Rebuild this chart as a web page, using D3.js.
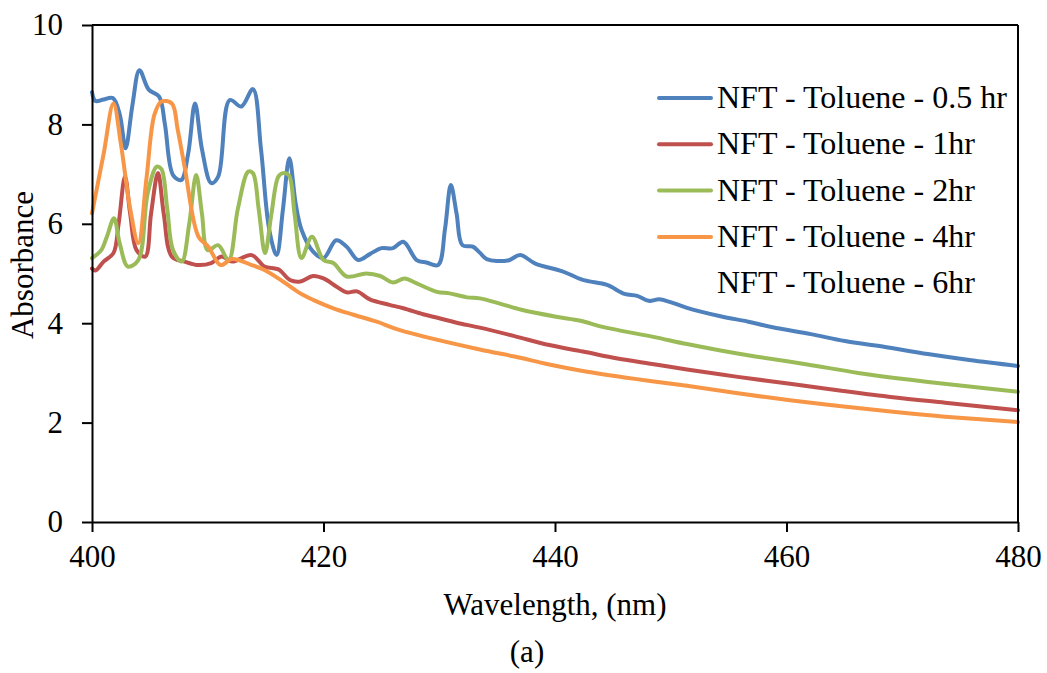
<!DOCTYPE html>
<html>
<head>
<meta charset="utf-8">
<script src="https://cdn.jsdelivr.net/npm/d3@7"></script>
<style>
  html, body { margin: 0; padding: 0; background: #fff; }
  svg { display: block; }
  text { font-family: "Liberation Serif", "Times New Roman", serif; fill: #000; }
</style>
</head>
<body>
<svg id="chart" width="1047" height="673"></svg>
<script>
// ---- Data ----
const xTicks = [400, 420, 440, 460, 480];
const yTicks = [0, 2, 4, 6, 8, 10];

const seriesNames = [
  "NFT - Toluene - 0.5 hr",
  "NFT - Toluene - 1hr",
  "NFT - Toluene - 2hr",
  "NFT - Toluene - 4hr",
  "NFT - Toluene - 6hr"
];
const seriesColors = ["#4F81BD", "#C0504D", "#9BBB59", "#F79646", "none"];

// 0.5 hr
const wl05 = [400, 400.3, 401, 401.8, 402.4, 402.9, 403.5, 404.1, 404.9, 405.8, 406.3, 407.0, 407.7, 408.3, 408.9, 409.5, 410.3, 410.9, 411.9, 412.9, 413.9, 414.6, 415.3, 415.95, 416.5, 417.05, 417.6, 418.1, 419.1, 420.0, 421.1, 422.0, 423.0, 424.0, 425.0, 426.0, 426.9, 428.05, 428.9, 429.9, 430.5, 431.0, 431.5, 432.0, 432.9, 433.5, 434.1, 435.9, 437.0, 438.3, 440.7, 442.4, 444.5, 446.0, 447.1, 448.1, 449.0, 449.9, 451.4, 454.3, 456.7, 458.8, 462.1, 465.05, 468.3, 472.2, 475.8, 480];
const abs05 = [8.65, 8.47, 8.50, 8.53, 8.2, 7.52, 8.4, 9.09, 8.7, 8.56, 8.0, 6.98, 6.88, 7.4, 8.42, 7.5, 6.82, 6.95, 8.49, 8.36, 8.71, 7.5, 5.9, 5.37, 6.3, 7.32, 6.4, 5.88, 5.44, 5.31, 5.67, 5.54, 5.27, 5.39, 5.51, 5.51, 5.64, 5.27, 5.22, 5.17, 5.9, 6.78, 6.2, 5.57, 5.54, 5.42, 5.29, 5.26, 5.37, 5.20, 5.04, 4.87, 4.77, 4.59, 4.55, 4.45, 4.48, 4.43, 4.31, 4.14, 4.03, 3.92, 3.78, 3.64, 3.53, 3.38, 3.26, 3.14];

// 1 hr
const wl1 = [400, 400.3, 401, 401.85, 402.3, 402.85, 403.3, 403.85, 404.6, 405.1, 405.7, 406.2, 406.9, 408.0, 409.2, 410.3, 411.2, 412.1, 413.8, 414.9, 415.8, 416.2, 417.1, 418.0, 419.1, 420.0, 421.1, 422.0, 422.9, 424.0, 425.7, 426.9, 428.6, 430.0, 431.5, 433.5, 436.5, 439.5, 442.4, 445.4, 448.4, 451.4, 455.8, 460.3, 464.75, 469.2, 473.7, 480];
const abs1 = [5.10, 5.06, 5.24, 5.41, 6.0, 6.95, 6.2, 5.47, 5.34, 6.2, 7.02, 6.2, 5.34, 5.24, 5.17, 5.21, 5.34, 5.24, 5.37, 5.14, 5.10, 5.07, 4.87, 4.84, 4.95, 4.90, 4.74, 4.62, 4.64, 4.48, 4.37, 4.30, 4.18, 4.10, 4.01, 3.91, 3.74, 3.56, 3.43, 3.29, 3.18, 3.07, 2.92, 2.78, 2.64, 2.51, 2.40, 2.25];

// 2 hr
const wl2 = [400, 400.8, 401.3, 401.9, 402.4, 403.1, 404.0, 404.8, 405.6, 406.0, 406.5, 407.0, 407.75, 408.4, 409.0, 409.5, 410.0, 410.9, 411.8, 412.6, 413.5, 413.9, 414.4, 414.95, 415.5, 416.1, 416.5, 417.0, 417.5, 418.1, 419.0, 420.0, 420.85, 422.0, 423.7, 424.9, 426.0, 427.0, 428.05, 429.8, 430.9, 432.4, 433.5, 435.3, 437.1, 440.1, 442.2, 444.2, 448.4, 451.4, 454.3, 457.3, 461.8, 466.2, 470.7, 475.2, 480];
const abs2 = [5.31, 5.47, 5.75, 6.11, 5.6, 5.14, 5.27, 6.6, 7.15, 7.10, 6.3, 5.47, 5.24, 6.0, 6.98, 6.2, 5.47, 5.57, 5.27, 6.3, 7.05, 7.02, 6.3, 5.41, 6.2, 6.95, 7.02, 6.98, 6.2, 5.31, 5.74, 5.27, 5.21, 4.94, 5.00, 4.95, 4.82, 4.90, 4.80, 4.63, 4.60, 4.52, 4.50, 4.39, 4.27, 4.13, 4.05, 3.92, 3.73, 3.58, 3.45, 3.33, 3.17, 3.00, 2.86, 2.74, 2.62];

// 4 hr
const wl4 = [400, 401.0, 401.85, 402.5, 403.3, 404.0, 404.7, 405.4, 406.0, 406.9, 407.4, 408.0, 409.2, 410.05, 411.1, 412.1, 413.8, 414.9, 416.5, 418.0, 419.1, 420.85, 422.6, 424.6, 426.6, 433.5, 436.5, 439.5, 442.4, 446.9, 451.4, 455.8, 460.3, 464.75, 469.2, 473.7, 480];
const abs4 = [6.21, 7.4, 8.42, 7.6, 6.3, 5.61, 6.9, 8.2, 8.46, 8.42, 7.9, 7.15, 5.74, 5.54, 5.17, 5.29, 5.17, 5.07, 4.84, 4.60, 4.47, 4.30, 4.17, 4.03, 3.86, 3.47, 3.33, 3.17, 3.04, 2.88, 2.74, 2.59, 2.45, 2.33, 2.22, 2.12, 2.01];

// 6 hr: listed in the legend, no line drawn in the reference
const wl6 = [];
const abs6 = [];

const seriesX = [wl05, wl1, wl2, wl4, wl6];
const seriesY = [abs05, abs1, abs2, abs4, abs6];

// ---- Layout ----
const svg = d3.select("#chart");
const L = 92, R = 1018, T = 25, B = 522;
const FONT = 31;
const LEGEND_FONT = 32;

const x = d3.scaleLinear().domain([400, 480]).range([L, R]);
const y = d3.scaleLinear().domain([0, 10]).range([B, T]);

// Lines
const line = d3.line()
  .x(d => x(d[0]))
  .y(d => y(d[1]))
  .curve(d3.curveCatmullRom.alpha(0.5));

seriesX.forEach((xs, i) => {
  if (!xs.length || seriesColors[i] === "none") return;
  const pts = xs.map((v, j) => [v, seriesY[i][j]]);
  svg.append("path")
    .datum(pts)
    .attr("d", line)
    .attr("fill", "none")
    .attr("stroke", seriesColors[i])
    .attr("stroke-width", 4)
    .attr("stroke-linejoin", "round")
    .attr("stroke-linecap", "round");
});

// Frame (top and right)
svg.append("line").attr("x1", L).attr("x2", R).attr("y1", T).attr("y2", T)
  .attr("stroke", "#000").attr("stroke-width", 2);
svg.append("line").attr("x1", R).attr("x2", R).attr("y1", T).attr("y2", B)
  .attr("stroke", "#000").attr("stroke-width", 2);

// Axes
const yAxis = svg.append("g").attr("transform", `translate(${L},0)`)
  .call(d3.axisLeft(y).tickValues(yTicks).tickSize(10).tickSizeOuter(0).tickPadding(19).tickFormat(d3.format("d")));
const xAxis = svg.append("g").attr("transform", `translate(0,${B})`)
  .call(d3.axisBottom(x).tickValues(xTicks).tickSize(10).tickSizeOuter(0).tickPadding(13).tickFormat(d3.format("d")));

[yAxis, xAxis].forEach(g => {
  g.attr("font-family", '"Liberation Serif", "Times New Roman", serif');
  g.select(".domain").attr("stroke", "#000").attr("stroke-width", 2);
  g.selectAll(".tick line").attr("stroke", "#000").attr("stroke-width", 2);
  g.selectAll(".tick text")
    .attr("font-family", '"Liberation Serif", "Times New Roman", serif')
    .attr("font-size", FONT)
    .attr("fill", "#000");
});
yAxis.selectAll(".tick text").attr("dy", "0.32em");

// Axis titles
svg.append("text")
  .attr("transform", `translate(33,265) rotate(-90)`)
  .attr("text-anchor", "middle")
  .attr("font-size", FONT)
  .text("Absorbance");

svg.append("text")
  .attr("x", 555).attr("y", 615)
  .attr("text-anchor", "middle")
  .attr("font-size", FONT)
  .text("Wavelength, (nm)");

svg.append("text")
  .attr("x", 527).attr("y", 662)
  .attr("text-anchor", "middle")
  .attr("font-size", FONT)
  .text("(a)");

// Legend
const legend = svg.append("g");
seriesNames.forEach((name, i) => {
  const ly = 98 + i * 46.3;
  if (seriesColors[i] !== "none") {
    legend.append("line")
      .attr("x1", 659).attr("x2", 711).attr("y1", ly).attr("y2", ly)
      .attr("stroke", seriesColors[i]).attr("stroke-width", 4)
      .attr("stroke-linecap", "round");
  }
  legend.append("text")
    .attr("x", 717).attr("y", ly + 10)
    .attr("font-size", LEGEND_FONT)
    .text(name);
});
</script>
</body>
</html>
